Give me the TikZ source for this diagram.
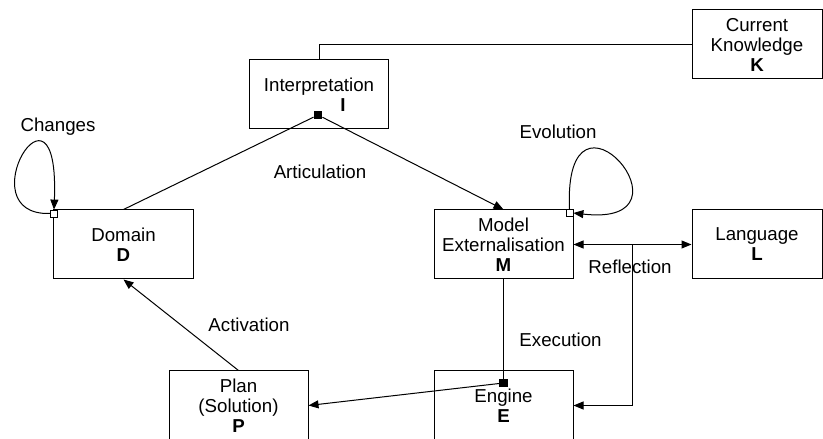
\documentclass[tikz,border=0pt]{standalone}
\usepackage{fontspec}
\setmainfont{Liberation Sans}
\usetikzlibrary{arrows.meta}
\begin{document}
\begin{tikzpicture}[x=1bp,y=-1bp,
  txt/.style={font=\fontsize{18.7bp}{20bp}\selectfont},
  box/.style={txt, draw, line width=1bp, minimum width=139bp, minimum height=69bp, inner sep=0pt, align=center},
  lbl/.style={txt, inner sep=0pt},
  conn/.style={line width=1bp},
  arr/.style={conn, -{Triangle[length=10bp,width=8bp]}},
  darr/.style={conn, {Triangle[length=10bp,width=8bp]}-{Triangle[length=10bp,width=8bp]}},
  wsq/.style={draw, fill=white, line width=0.8bp, minimum size=7bp, inner sep=0pt},
  bsq/.style={fill=black, minimum size=8.5bp, inner sep=0pt}]
\useasboundingbox (0,0) rectangle (823,439);
% boxes
\node[box, minimum width=130bp] (K) at (757,44.5) {Current\\Knowledge\\\textbf{K}};
\node[box] (I) at (319,94.5) {Interpretation\\\hspace*{48bp}\textbf{I}};
\node[box] (D) at (123.5,244.5) {Domain\\\textbf{D}};
\node[box] (M) at (503.5,244.5) {Model\\Externalisation\\\textbf{M}};
\node[box, minimum width=130bp] (L) at (757,244.5) {Language\\\textbf{L}};
\node[box] (P) at (238.5,405.5) {Plan\\(Solution)\\\textbf{P}};
\node[box] (E) at (503.5,405.5) {Engine\\\textbf{E}};
% markers
\node[bsq] (Is) at (318,115) {};
\node[bsq] (Es) at (503.5,383) {};
\node[wsq] (Ds) at (54,213.5) {};
\node[wsq] (Ms) at (569.5,213) {};
% connectors
\draw[conn] (K.west) -| (I.north);
\draw[conn] (Is) -- (D.north);
\draw[arr] (Is) -- (M.north);
\draw[arr] (Ds.west) .. controls (-35,216) and (60,58) .. (Ds.north);
\draw[arr] (Ms.north) .. controls (563,62) and (705,228) .. (Ms.east);
\draw[darr] (M.east) -- (L.west);
\coordinate (R) at (632,244.5);
\draw[arr] (R) |- (E.east);
\draw[conn] (M.south) -- (Es);
\draw[arr] (Es) -- (P.east);
\draw[arr] (P.north) -- (D.south);
% labels
\node[lbl] (lChanges) at (58,127) {Changes};
\node[lbl] (lArt) at (320,172) {Articulation};
\node[lbl] (lEvo) at (558,132) {Evolution};
\node[lbl] (lRef) at (630,266.5) {Reflection};
\node[lbl] (lExe) at (560.5,340) {Execution};
\node[lbl] (lAct) at (249,325) {Activation};
\end{tikzpicture}
\end{document}
